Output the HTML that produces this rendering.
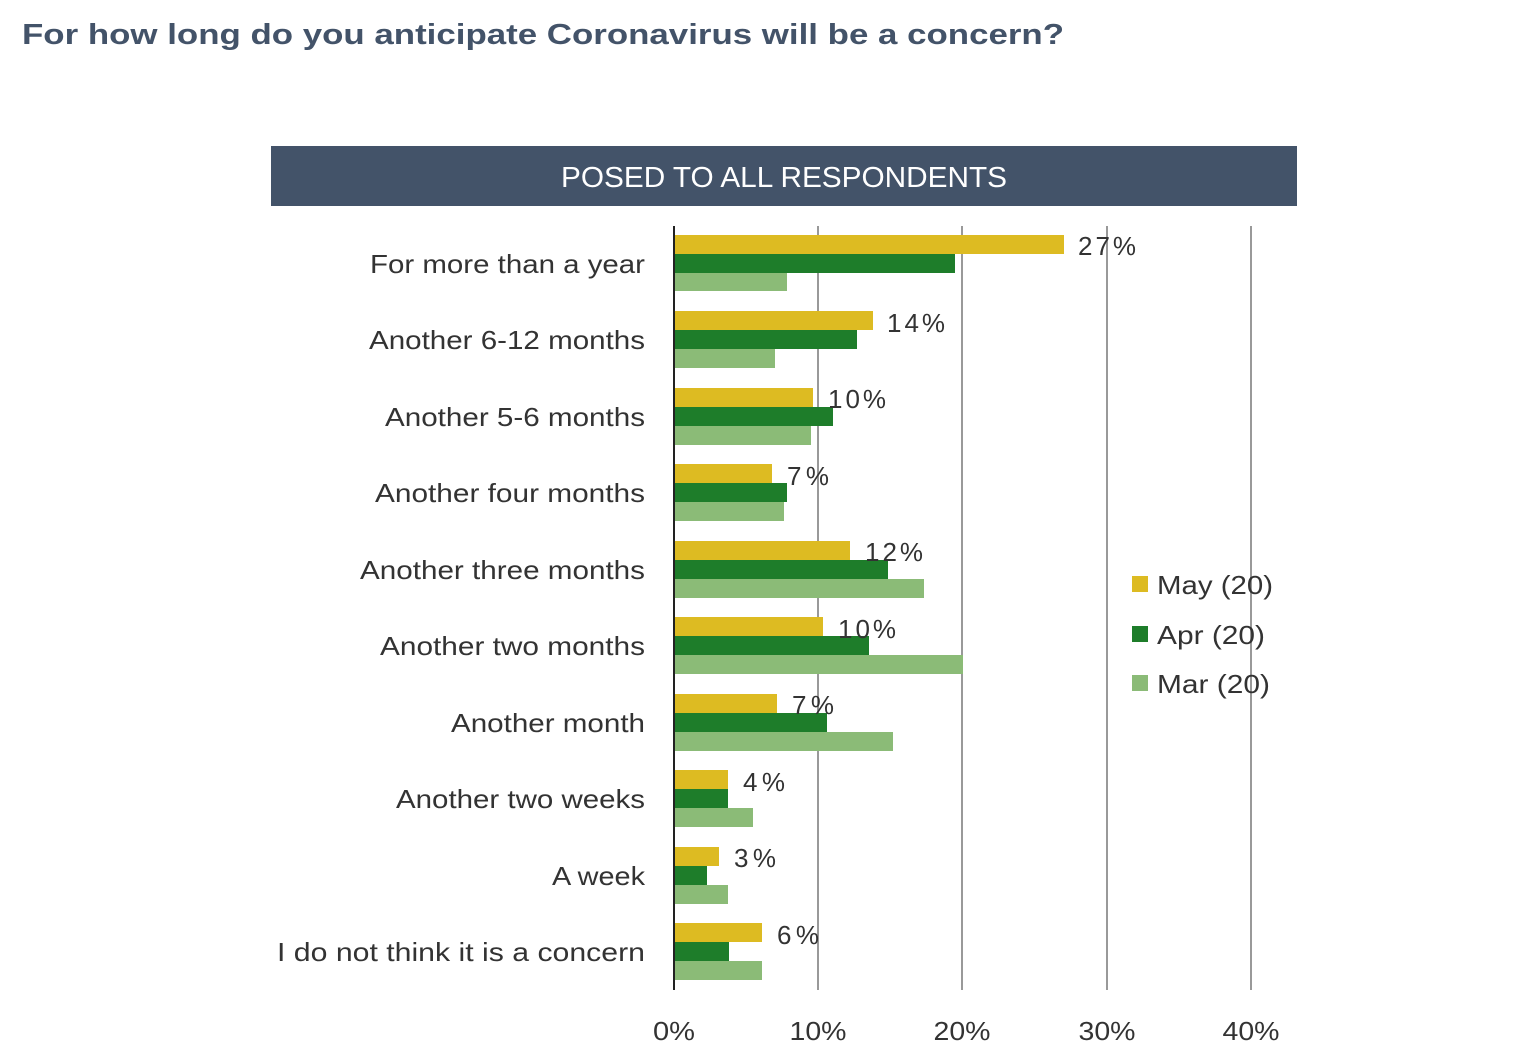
<!DOCTYPE html>
<html><head><meta charset="utf-8"><style>
html,body{margin:0;padding:0;background:#fff;}
svg{display:block;}
text{font-family:"Liberation Sans","DejaVu Sans",sans-serif;}
</style></head><body>
<svg width="1540" height="1061" viewBox="0 0 1540 1061" xmlns="http://www.w3.org/2000/svg">
<text x="22" y="44" font-size="29" font-weight="bold" fill="#435369" textLength="1042" lengthAdjust="spacingAndGlyphs">For how long do you anticipate Coronavirus will be a concern?</text>
<rect x="271" y="146" width="1026" height="60" fill="#435369"/>
<text x="784" y="187" font-size="29" fill="#fff" text-anchor="middle" textLength="446" lengthAdjust="spacingAndGlyphs">POSED TO ALL RESPONDENTS</text>
<g stroke="#999" stroke-width="2">
<line x1="818" y1="226" x2="818" y2="990"/>
<line x1="962" y1="226" x2="962" y2="990"/>
<line x1="1107" y1="226" x2="1107" y2="990"/>
<line x1="1251" y1="226" x2="1251" y2="990"/>
</g>
<g>
<rect x="675" y="235" width="389" height="19" fill="#DDBB22"/><rect x="675" y="254" width="280" height="19" fill="#1E7D2A"/><rect x="675" y="273" width="112" height="18" fill="#8BBB77"/>
<rect x="675" y="311" width="198" height="19" fill="#DDBB22"/><rect x="675" y="330" width="182" height="19" fill="#1E7D2A"/><rect x="675" y="349" width="100" height="19" fill="#8BBB77"/>
<rect x="675" y="388" width="138" height="19" fill="#DDBB22"/><rect x="675" y="407" width="158" height="19" fill="#1E7D2A"/><rect x="675" y="426" width="136" height="19" fill="#8BBB77"/>
<rect x="675" y="464" width="97" height="19" fill="#DDBB22"/><rect x="675" y="483" width="112" height="19" fill="#1E7D2A"/><rect x="675" y="502" width="109" height="19" fill="#8BBB77"/>
<rect x="675" y="541" width="175" height="19" fill="#DDBB22"/><rect x="675" y="560" width="213" height="19" fill="#1E7D2A"/><rect x="675" y="579" width="249" height="19" fill="#8BBB77"/>
<rect x="675" y="617" width="148" height="19" fill="#DDBB22"/><rect x="675" y="636" width="194" height="19" fill="#1E7D2A"/><rect x="675" y="655" width="288" height="19" fill="#8BBB77"/>
<rect x="675" y="694" width="102" height="19" fill="#DDBB22"/><rect x="675" y="713" width="152" height="19" fill="#1E7D2A"/><rect x="675" y="732" width="218" height="19" fill="#8BBB77"/>
<rect x="675" y="770" width="53" height="19" fill="#DDBB22"/><rect x="675" y="789" width="53" height="19" fill="#1E7D2A"/><rect x="675" y="808" width="78" height="19" fill="#8BBB77"/>
<rect x="675" y="847" width="44" height="19" fill="#DDBB22"/><rect x="675" y="866" width="32" height="19" fill="#1E7D2A"/><rect x="675" y="885" width="53" height="19" fill="#8BBB77"/>
<rect x="675" y="923" width="87" height="19" fill="#DDBB22"/><rect x="675" y="942" width="54" height="19" fill="#1E7D2A"/><rect x="675" y="961" width="87" height="19" fill="#8BBB77"/>
</g>
<line x1="674" y1="226" x2="674" y2="990" stroke="#222" stroke-width="2"/>
<g font-size="26" fill="#333" text-anchor="middle">
<text x="674" y="1040" textLength="42" lengthAdjust="spacingAndGlyphs">0%</text><text x="818" y="1040" textLength="57" lengthAdjust="spacingAndGlyphs">10%</text><text x="962" y="1040" textLength="57" lengthAdjust="spacingAndGlyphs">20%</text><text x="1107" y="1040" textLength="57" lengthAdjust="spacingAndGlyphs">30%</text><text x="1251" y="1040" textLength="57" lengthAdjust="spacingAndGlyphs">40%</text>
</g>
<rect x="1132" y="576" width="16" height="16" fill="#DDBB22"/>
<rect x="1132" y="626" width="16" height="16" fill="#1E7D2A"/>
<rect x="1132" y="675" width="16" height="16" fill="#8BBB77"/>
<g font-size="26" fill="#333">
<text x="1157" y="594" textLength="116" lengthAdjust="spacingAndGlyphs">May (20)</text>
<text x="1157" y="644" textLength="108" lengthAdjust="spacingAndGlyphs">Apr (20)</text>
<text x="1157" y="693" textLength="113" lengthAdjust="spacingAndGlyphs">Mar (20)</text>
</g>
<g font-size="26" fill="#333" text-anchor="end">
<text x="645" y="273" textLength="275" lengthAdjust="spacingAndGlyphs">For more than a year</text>
<text x="645" y="349" textLength="276" lengthAdjust="spacingAndGlyphs">Another 6-12 months</text>
<text x="645" y="426" textLength="260" lengthAdjust="spacingAndGlyphs">Another 5-6 months</text>
<text x="645" y="502" textLength="270" lengthAdjust="spacingAndGlyphs">Another four months</text>
<text x="645" y="579" textLength="285" lengthAdjust="spacingAndGlyphs">Another three months</text>
<text x="645" y="655" textLength="265" lengthAdjust="spacingAndGlyphs">Another two months</text>
<text x="645" y="732" textLength="194" lengthAdjust="spacingAndGlyphs">Another month</text>
<text x="645" y="808" textLength="249" lengthAdjust="spacingAndGlyphs">Another two weeks</text>
<text x="645" y="885" textLength="93" lengthAdjust="spacingAndGlyphs">A week</text>
<text x="645" y="961" textLength="368" lengthAdjust="spacingAndGlyphs">I do not think it is a concern</text>
</g>
<g font-size="26" fill="#333" lengthAdjust="spacingAndGlyphs">
<text x="1078" y="255" textLength="58">27%</text>
<text x="887" y="332" textLength="58">14%</text>
<text x="828" y="408" textLength="58">10%</text>
<text x="787" y="485" textLength="42">7%</text>
<text x="865" y="561" textLength="58">12%</text>
<text x="838" y="638" textLength="58">10%</text>
<text x="792" y="714" textLength="42">7%</text>
<text x="743" y="791" textLength="42">4%</text>
<text x="734" y="867" textLength="42">3%</text>
<text x="777" y="944" textLength="42">6%</text>
</g>
</svg>
</body></html>
